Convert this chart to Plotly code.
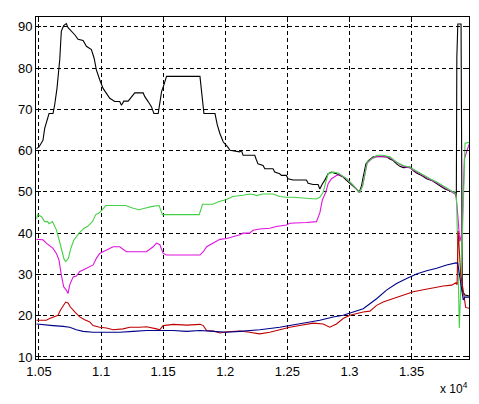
import plotly.graph_objects as go

# ---- data (x in raw units, axis shown as x 10^4) ----
black_x = [10480, 10500, 10532, 10546, 10581, 10613, 10626, 10645, 10667, 10680, 10699, 10720,
           10734, 10761, 10788, 10815, 10855, 10882, 10922, 10944, 10962, 10989, 11016, 11043,
           11070, 11110, 11150, 11164, 11183, 11218, 11245, 11271, 11339, 11352, 11379, 11406,
           11425, 11460, 11468, 11487, 11505, 11527, 11796, 11809, 11828, 11917, 11936, 11957,
           11984, 12019, 12038, 12116, 12130, 12143, 12237, 12250, 12263, 12304, 12318, 12384,
           12398, 12438, 12452, 12492, 12505, 12546, 12653, 12667, 12707, 12747, 12761, 12782,
           12800, 12828, 12855, 12895, 12922, 12949, 12976, 13003, 13030, 13056, 13078, 13097,
           13110, 13132, 13150, 13191, 13231, 13298, 13325, 13352, 13379, 13406, 13433, 13460,
           13486, 13513, 13540, 13581, 13621, 13661, 13702, 13728, 13769, 13809, 13849, 13860,
           13864, 13872, 13898, 13902, 13908, 13930, 13960]
black_y = [60.5, 60.9, 62.5, 65.4, 69, 69, 71, 75.1, 82, 89, 90.3, 90.8,
           89.8, 89, 88.1, 87, 86.7, 85.3, 84.5, 82.4, 79.6, 77.2, 75.1, 73.9,
           72.7, 71.9, 71.9, 71, 72, 72, 73.1, 74, 74, 73.1, 71.9, 70.6,
           69, 69, 70.6, 74.3, 75.9, 78, 78, 74.7, 69, 69, 66.2, 64.1,
           62.1, 60.9, 60.1, 59.7, 60, 58.9, 58.9, 57.8, 56.8, 56.4, 55.6, 55.6,
           54.8, 54.4, 54, 54, 53.2, 52.9, 52.9, 52.1, 51.8, 51.8, 50.7, 52,
           52.8, 54.4, 54.8, 54.4, 54, 53.6, 52.8, 52.1, 51.5, 50.7, 49.9, 51.5,
           53.6, 56.8, 57.5, 58.5, 58.6, 58.5, 58, 57.6, 56.8, 56.2, 55.9, 55.9,
           56, 55.2, 54.6, 54, 53.2, 52.8, 52.1, 51.5, 50.7, 50.2, 49.9, 48.7,
           82.5, 90.7, 90.7, 40, 26, 25, 24.8]

green_x = [10480, 10490, 10520, 10546, 10570, 10581, 10608, 10621, 10640, 10662, 10683, 10702,
           10715, 10737, 10756, 10782, 10823, 10863, 10890, 10930, 10957, 10984, 11011, 11038,
           11091, 11145, 11198, 11252, 11306, 11360, 11413, 11467, 11494, 11790, 11817, 11898,
           11951, 12005, 12060, 12140, 12200, 12237, 12250, 12300, 12384, 12438, 12492, 12546,
           12653, 12734, 12761, 12788, 12809, 12828, 12868, 12909, 12935, 12976, 13016, 13056,
           13083, 13105, 13124, 13142, 13177, 13218, 13271, 13325, 13379, 13433, 13486, 13540,
           13594, 13648, 13702, 13755, 13795, 13836, 13857, 13863, 13884, 13903, 13916, 13930,
           13962]
green_y = [43.5, 44.5, 44, 42.8, 42.8, 42.3, 42.8, 42, 40.8, 38.4, 35.9, 33.7,
           33.1, 33.9, 36.3, 38.4, 40, 41.2, 41.6, 42.8, 44.5, 44.9, 45.7, 46.7,
           46.7, 46.7, 46.7, 46.1, 45.7, 46.1, 46.5, 46.7, 44.5, 44.5, 47, 47,
           47.7, 48.1, 48.9, 49.2, 49.5, 49.3, 49.1, 49.5, 49.5, 48.9, 48.7, 48.7,
           48.5, 48.3, 48.7, 49.9, 52.4, 54.4, 54.8, 54.6, 54, 53.2, 52, 50.7,
           49.9, 51.5, 54.8, 57.2, 58, 58.9, 58.9, 58.5, 57.2, 56.4, 56, 55,
           54, 53.2, 52.4, 51.5, 50.7, 49.9, 49.5, 47, 17, 33.5, 50, 61.8,
           62]

magenta_x = [10480, 10500, 10532, 10559, 10586, 10613, 10640, 10661, 10680, 10699, 10720, 10734,
             10747, 10761, 10775, 10801, 10828, 10855, 10882, 10909, 10936, 10962, 10989, 11016,
             11043, 11070, 11097, 11150, 11204, 11258, 11312, 11366, 11419, 11446, 11473, 11500,
             11527, 11688, 11796, 11823, 11850, 11903, 11957, 12011, 12118, 12142, 12196, 12223,
             12277, 12358, 12411, 12492, 12519, 12653, 12734, 12761, 12782, 12809, 12828, 12855,
             12895, 12922, 12976, 13016, 13056, 13083, 13105, 13124, 13142, 13177, 13218, 13271,
             13325, 13379, 13433, 13486, 13540, 13594, 13648, 13702, 13755, 13795, 13836, 13857,
             13870, 13888, 13905, 13925, 13962]
magenta_y = [38.5, 38.5, 38.4, 37.6, 36.9, 36.3, 35.1, 33.5, 29.8, 27, 26.2, 25.4,
             27.4, 28.6, 29.4, 29.6, 30.7, 31.1, 31.5, 31.9, 32.3, 33.9, 35.1, 35.5,
             35.9, 36.3, 36.7, 36.7, 35.5, 35.5, 35.5, 35.5, 36.7, 37.6, 37.2, 35.1,
             34.7, 34.7, 34.7, 35.5, 36.7, 37.6, 38.5, 38.7, 39.6, 40, 40, 40.7,
             41, 41.2, 41.6, 42, 42.4, 42.6, 42.8, 44.9, 48.1, 49.9, 52, 53.2,
             54, 54.2, 53.2, 52, 50.7, 49.9, 51.5, 54.8, 57, 58, 58.6, 58.7,
             58.3, 57.2, 56.2, 55.8, 54.8, 53.8, 53, 52.2, 51.3, 50.5, 49.7, 49.3,
             45, 38, 40, 58, 61.5]

red_x = [10480, 10532, 10559, 10586, 10626, 10653, 10672, 10694, 10715, 10734, 10753, 10788,
         10828, 10868, 10909, 10935, 10989, 11043, 11097, 11177, 11231, 11312, 11366, 11446,
         11473, 11500, 11581, 11688, 11796, 11823, 11849, 11903, 11957, 12011, 12118, 12196,
         12277, 12358, 12438, 12519, 12599, 12707, 12788, 12841, 12895, 12949, 13003, 13056,
         13110, 13164, 13218, 13271, 13352, 13433, 13513, 13594, 13675, 13755, 13822, 13857,
         13866, 13874, 13880, 13895, 13916, 13935, 13962]
red_y = [18.9, 18.9, 18.9, 19.3, 19.7, 20.1, 21.3, 22.5, 23.3, 23.1, 22.1, 20.9,
         19.7, 19, 18.5, 17.6, 17.2, 17, 16.6, 16.8, 17.2, 17.2, 17.3, 16.8,
         16.6, 17.6, 17.9, 17.7, 17.9, 17.6, 16.4, 16.3, 15.8, 16.1, 16.3, 16,
         15.6, 16, 16.6, 17.2, 17.6, 18.2, 18, 17.2, 18, 19.3, 20.1, 20.5,
         20.9, 21.1, 22.5, 23.3, 24.1, 24.9, 25.8, 26.3, 26.8, 27.2, 27.4, 28,
         27.5, 40.5, 38, 30, 26, 22, 21.8]

blue_x = [10480, 10532, 10613, 10694, 10747, 10801, 10855, 10935, 11043, 11150, 11258, 11366,
          11473, 11581, 11688, 11796, 11903, 12011, 12118, 12277, 12438, 12599, 12761, 12868,
          12949, 13030, 13110, 13164, 13218, 13298, 13379, 13460, 13540, 13621, 13702, 13782,
          13857, 13871, 13885, 13916, 13930, 13962]
blue_y = [18, 17.9, 17.6, 17.4, 17.2, 16.6, 16.2, 16, 16, 16, 16.2, 16.4,
          16.4, 16.4, 16.2, 16.4, 16.2, 16, 16.2, 16.6, 17.2, 18, 18.9, 19.7,
          20.1, 20.9, 21.7, 22.9, 24.1, 26.2, 27.8, 29, 30.1, 30.9, 31.5, 32.3,
          32.8, 32.7, 30, 23.8, 24.5, 24.5]

x_ticks = [10500, 11000, 11500, 12000, 12500, 13000, 13500]
x_ticklabels = ["1.05", "1.1", "1.15", "1.2", "1.25", "1.3", "1.35"]
y_ticks = [10, 20, 30, 40, 50, 60, 70, 80, 90]

FONT = dict(family="Liberation Sans, Arial, sans-serif", size=13, color="black")

fig = go.Figure()
series = [
    (black_x, black_y, "#000000"),
    (magenta_x, magenta_y, "#e010e0"),
    (green_x, green_y, "#44d044"),
    (red_x, red_y, "#c00000"),
    (blue_x, blue_y, "#00008b"),
]
for xs, ys, col in series:
    fig.add_trace(go.Scatter(x=xs, y=ys, mode="lines",
                             line=dict(color=col, width=1.1), hoverinfo="skip"))

# the page body has an 8px margin, so the figure is sized/offset to compensate
fig.update_layout(
    width=463, height=388, autosize=False,
    margin=dict(l=28, r=2, t=9, b=37),
    paper_bgcolor="white", plot_bgcolor="white",
    showlegend=False, font=FONT,
)
axis_common = dict(showline=True, linecolor="black", linewidth=1, mirror="ticks",
                   ticks="inside", ticklen=5, tickcolor="black",
                   showgrid=True, gridcolor="black", gridwidth=1, griddash="4px,3px",
                   zeroline=False, tickfont=FONT, automargin=False)
fig.update_xaxes(range=[10476, 13962], tickvals=x_ticks, ticktext=x_ticklabels, **axis_common)
fig.update_yaxes(range=[9.5, 92.4], tickvals=y_ticks, **axis_common)

fig.add_annotation(xref="paper", yref="paper", x=1.0, y=-0.086, xanchor="right",
                   yanchor="middle", showarrow=False, borderpad=0,
                   text="x 10<sup>4</sup>", font=dict(FONT, size=12))

fig.write_html("out.html")
